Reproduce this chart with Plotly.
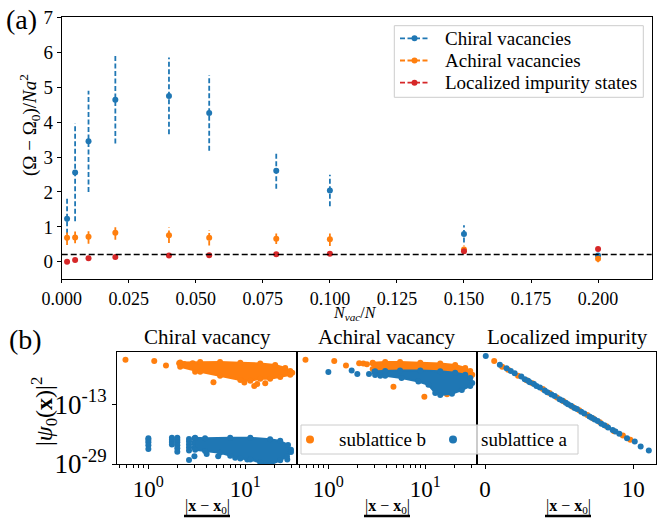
import plotly.graph_objects as go

FONT = "Liberation Serif, DejaVu Serif, serif"
BLUE, ORANGE, RED = "#1f77b4", "#ff7f0e", "#d62728"

# ---------------- Panel (a) data ----------------
CONC = [0.002, 0.005, 0.01, 0.02, 0.04, 0.055, 0.08, 0.1, 0.15, 0.2]
CHIRAL = [1.23, 2.56, 3.45, 4.64, 4.75, 4.26, 2.61, 2.04, 0.80, 0.18]
CHIRAL_ERR = [0.64, 1.40, 1.45, 1.25, 1.10, 1.08, 0.52, 0.45, 0.25, 0.06]
ACHIRAL = [0.69, 0.70, 0.72, 0.83, 0.76, 0.69, 0.66, 0.65, 0.35, 0.09]
ACHIRAL_ERR = [0.21, 0.17, 0.20, 0.20, 0.22, 0.22, 0.15, 0.20, 0.12, 0.10]
LOCALIZED = [0.00, 0.05, 0.10, 0.14, 0.18, 0.19, 0.22, 0.23, 0.30, 0.37]
REF_LEVEL = 0.21
A_XTICKS = [0, 0.025, 0.05, 0.075, 0.1, 0.125, 0.15, 0.175, 0.2]
A_YTICKS = [0, 1, 2, 3, 4, 5, 6, 7]
A_NAMES = ["Chiral vacancies", "Achiral vacancies", "Localized impurity states"]

# ---------------- Panel (b) data (r = |x-x0|/a, exponent = log10 |psi|^2) ----------------
# Chiral vacancy, sublattice b (orange)
CH_B_PTS_R = [0.58, 1.15, 1.52, 2.08, 2.34, 2.57, 2.87, 3.04, 3.10, 4.7, 9.8, 12.4, 13.3, 16.1]
CH_B_PTS_E = [-1.1, -1.4, -2.65, -2.0, -2.2, -2.5, -2.0, -4.3, -3.3, -7.1, -7.2, -8.1, -7.6, -7.4]
CH_B_BAND_R = [2.13, 3.43, 5.5, 8.9, 14.3, 20.4, 25.9, 29.2, 30.6,
               29.2, 23.0, 18.1, 14.3, 11.3, 8.9, 5.5, 3.43, 2.13]
CH_B_BAND_E = [-1.8, -1.7, -1.7, -1.9, -2.1, -2.5, -3.3, -4.1, -4.6,
               -5.1, -5.7, -6.2, -6.2, -6.7, -6.5, -5.4, -4.3, -3.0]
# Chiral vacancy, sublattice a (blue)
CH_A_PTS_R = [1.0, 1.0, 1.0, 1.0, 1.0,
              1.75, 1.75, 1.75, 1.75,
              1.99, 1.99, 1.99, 1.99, 1.99, 1.99,
              2.63, 2.63, 2.63, 2.63, 2.63, 2.63,
              2.99, 2.99, 2.99, 2.99,
              4.0, 5.26, 7.88, 10.5, 16.1, 27.2]
CH_A_PTS_E = [-22.1, -22.6, -23.2, -24.0, -25.0,
              -22.0, -22.5, -23.1, -23.8,
              -22.0, -22.6, -23.2, -24.0, -24.8, -25.7,
              -22.3, -23.0, -23.8, -24.6, -25.4, -27.9,
              -22.2, -23.4, -24.6, -26.9,
              -26.3, -26.9, -27.3, -27.8, -28.6, -27.8]
CH_A_BAND_R = [3.04, 3.85, 7.0, 11.3, 18.1, 23.0, 27.7, 29.7,
               29.7, 27.0, 23.0, 18.1, 14.3, 11.3, 8.9, 7.0, 5.5, 3.85, 3.04]
CH_A_BAND_E = [-22.0, -22.1, -22.0, -22.0, -22.4, -22.8, -23.9, -25.2,
               -25.8, -27.0, -28.0, -29.2, -28.6, -27.8, -27.5, -26.8, -26.0, -25.5, -25.2]
# Achiral vacancy, sublattice b (orange)
AC_B_PTS_R = [0.58, 1.15, 1.52, 2.08, 2.30, 2.50, 2.87, 4.7, 9.8, 16.8]
AC_B_PTS_E = [-1.1, -1.4, -2.65, -2.0, -2.1, -2.3, -2.0, -8.3, -11.0, -10.3]
AC_B_BAND_R = [2.87, 3.86, 5.5, 8.9, 14.3, 20.4, 25.9, 29.2, 30.6,
               29.2, 23.0, 14.3, 8.9, 5.5, 3.86, 2.87]
AC_B_BAND_E = [-1.9, -1.7, -1.7, -1.9, -2.1, -2.5, -3.3, -4.1, -5.1,
               -5.8, -5.3, -4.8, -4.6, -4.4, -4.3, -3.6]
# Achiral vacancy, sublattice a (blue)
AC_A_PTS_R = [1.0, 1.74, 1.99, 2.63, 2.99, 3.44]
AC_A_PTS_E = [-4.4, -4.0, -4.9, -4.9, -4.3, -5.4]
AC_A_BAND_R = [3.04, 3.86, 5.5, 8.9, 14.3, 20.4, 25.9, 29.2, 30.6,
               29.2, 23.9, 18.9, 14.3, 12.7, 10.8, 8.5, 5.7, 3.86, 3.04]
AC_A_BAND_E = [-4.2, -4.1, -4.0, -4.0, -4.2, -4.6, -5.1, -6.0, -7.3,
               -8.1, -9.2, -10.2, -10.5, -10.0, -7.8, -6.9, -6.0, -5.4, -5.2]
# Localized impurity
LO_B_R = [0.62, 1.16, 1.56, 2.23, 2.8, 3.2, 3.9, 4.35, 4.85, 5.3, 5.9, 6.35, 6.9, 7.3,
          7.75, 8.2, 8.7, 9.3, 9.8]
LO_B_E = [-1.4, -3.0, -3.8, -5.4, -6.6, -7.4, -8.9, -10.0, -11.2, -12.2, -13.7, -14.6,
          -15.9, -16.8, -17.8, -18.9, -20.2, -21.4, -22.5]
LO_A_R = [0.05, 1.0, 1.45, 1.74, 2.0, 2.45, 2.68, 2.9, 3.02, 3.3, 3.47, 3.7, 4.03, 4.2,
          4.48, 4.7, 5.03, 5.2, 5.45, 5.6, 5.8, 6.04, 6.2, 6.49, 6.7, 7.05, 7.2, 7.4, 7.6,
          7.85, 8.05, 8.3, 8.61, 8.8, 9.06, 9.58, 10.1, 10.5, 11.05]
LO_A_E = [-0.1, -2.4, -3.4, -4.1, -4.7, -5.6, -6.3, -6.7, -7.1, -7.6, -8.1, -8.5, -9.3,
          -9.8, -10.4, -10.8, -11.7, -12.0, -12.6, -13.0, -13.4, -14.0, -14.3, -15.0,
          -15.5, -16.3, -16.6, -17.1, -17.5, -18.2, -18.6, -19.2, -19.9, -20.3, -20.9,
          -22.1, -23.0, -24.3, -25.4]
B_XTICKS_LOG = [1, 10]
B_XTICKTEXT_LOG = ["10<sup>0</sup>", "10<sup>1</sup>"]
B_XMINOR_LOG = [0.5, 0.6, 0.7, 0.8, 0.9, 2, 3, 4, 5, 6, 7, 8, 9, 20, 30]
B_YTICKS = [1e-13, 1e-29]
B_YTICKTEXT = ["10<sup>-13</sup>", "10<sup>-29</sup>"]
B_XTICKS_LIN = [0, 10]
B_NAMES = ["sublattice b", "sublattice a"]


def pw(exps):
    return [10 ** e for e in exps]


def err_segments(x, y, e):
    xs, ys = [], []
    for xi, yi, ei in zip(x, y, e):
        xs += [xi, xi, None]
        ys += [yi - ei, yi + ei, None]
    return xs, ys


fig = go.Figure()

# ---- panel (a)
for name, vals, errs, col in [(A_NAMES[0], CHIRAL, CHIRAL_ERR, BLUE),
                              (A_NAMES[1], ACHIRAL, ACHIRAL_ERR, ORANGE),
                              (A_NAMES[2], LOCALIZED, None, RED)]:
    if errs is not None:
        ex, ey = err_segments(CONC, vals, errs)
        fig.add_trace(go.Scatter(x=ex, y=ey, mode="lines", showlegend=False,
                                 line=dict(color=col, width=1.8, dash="5px,2.5px"),
                                 hoverinfo="skip", xaxis="x", yaxis="y"))
    fig.add_trace(go.Scatter(x=CONC, y=vals, mode="markers", showlegend=False, name=name,
                             marker=dict(color=col, size=6), xaxis="x", yaxis="y"))

# ---- panel (b)
def band(r, e, col, xa, ya):
    fig.add_trace(go.Scatter(x=r, y=pw(e), mode="lines+markers", fill="toself",
                             fillcolor=col, line=dict(color=col, width=2),
                             marker=dict(color=col, size=6), showlegend=False,
                             xaxis=xa, yaxis=ya, hoverinfo="skip"))


def pts(r, e, col, xa, ya, name=None):
    fig.add_trace(go.Scatter(x=r, y=pw(e), mode="markers",
                             marker=dict(color=col, size=6),
                             name=name, showlegend=False, xaxis=xa, yaxis=ya))

pts(CH_B_PTS_R, CH_B_PTS_E, ORANGE, "x2", "y2", B_NAMES[0])
band(CH_B_BAND_R, CH_B_BAND_E, ORANGE, "x2", "y2")
pts(CH_A_PTS_R, CH_A_PTS_E, BLUE, "x2", "y2", B_NAMES[1])
band(CH_A_BAND_R, CH_A_BAND_E, BLUE, "x2", "y2")

pts(AC_B_PTS_R, AC_B_PTS_E, ORANGE, "x3", "y3", B_NAMES[0])
band(AC_B_BAND_R, AC_B_BAND_E, ORANGE, "x3", "y3")
pts(AC_A_PTS_R, AC_A_PTS_E, BLUE, "x3", "y3", B_NAMES[1])
band(AC_A_BAND_R, AC_A_BAND_E, BLUE, "x3", "y3")

pts(LO_B_R, LO_B_E, ORANGE, "x4", "y4", B_NAMES[0])
pts(LO_A_R, LO_A_E, BLUE, "x4", "y4", B_NAMES[1])

W, H = 657, 523
def px(v):
    return v / W
def py(v):
    return 1 - v / H

ax_common = dict(showline=True, mirror=True, linecolor="black", linewidth=1,
                 ticks="outside", ticklen=4, tickcolor="black", showgrid=False,
                 zeroline=False, automargin=False)
B_Y = [py(464), py(352.3)]
log_x = dict(type="log", range=[-0.324, 1.535], tickvals=B_XTICKS_LOG,
             ticktext=B_XTICKTEXT_LOG, tickfont=dict(family=FONT, size=23, color="black"),
             minor=dict(ticks="outside", ticklen=2.5, tickcolor="black",
                        tickmode="array", tickvals=B_XMINOR_LOG, showgrid=False),
             **ax_common)
log_y = dict(type="log", range=[-29, 0.9], domain=B_Y, **ax_common)

fig.update_layout(
    width=W, height=H, margin=dict(l=0, r=0, t=0, b=0, autoexpand=False),
    paper_bgcolor="white", plot_bgcolor="white", showlegend=False,
    font=dict(family=FONT, color="black", size=19),
    xaxis=dict(domain=[px(61.7), px(651.7)], anchor="y", range=[0, 0.22],
               tickvals=A_XTICKS, tickformat=".3f",
               tickfont=dict(family=FONT, size=18, color="black"),
               **{**ax_common, "ticklen": 3}),
    yaxis=dict(domain=[py(279.3), py(17.3)], anchor="x", range=[-0.5, 7],
               tickvals=A_YTICKS,
               tickfont=dict(family=FONT, size=19, color="black"), **ax_common),
    xaxis2=dict(domain=[px(117), px(297)], anchor="y2", **log_x),
    yaxis2=dict(anchor="x2", tickvals=B_YTICKS, ticktext=B_YTICKTEXT,
                tickfont=dict(family=FONT, size=27, color="black"), **log_y),
    xaxis3=dict(domain=[px(297), px(477)], anchor="y3", **log_x),
    yaxis3=dict(anchor="x3", showticklabels=False, tickvals=[], **log_y),
    xaxis4=dict(domain=[px(477), px(655.5)], anchor="y4", range=[-0.54, 11.5],
                tickvals=B_XTICKS_LIN, tickfont=dict(family=FONT, size=23, color="black"),
                **ax_common),
    yaxis4=dict(anchor="x4", showticklabels=False, tickvals=[], **log_y),
)

fig.add_shape(type="line", xref="x domain", yref="y", x0=0, x1=1, y0=REF_LEVEL,
              y1=REF_LEVEL, line=dict(color="black", width=1.6, dash="6px,3px"))


def ann(x, y, text, size, angle=0, xanchor="center"):
    fig.add_annotation(x=px(x), y=py(y), xref="paper", yref="paper", text=text,
                       showarrow=False, textangle=angle, xanchor=xanchor,
                       yanchor="middle",
                       font=dict(family=FONT, size=size, color="black"))


def box(x0, y0, x1, y1):
    fig.add_shape(type="rect", xref="paper", yref="paper", x0=px(x0), x1=px(x1),
                  y0=py(y1), y1=py(y0), line=dict(color="#cccccc", width=1),
                  fillcolor="rgba(255,255,255,0.8)", layer="above")


def dot(x, y, col, d):
    fig.add_shape(type="circle", xref="paper", yref="paper", x0=px(x - d / 2),
                  x1=px(x + d / 2), y0=py(y + d / 2), y1=py(y - d / 2),
                  line=dict(width=0), fillcolor=col, layer="above")


# legend (a)
box(394.3, 25.7, 643.3, 97.3)
for i, (name, col) in enumerate(zip(A_NAMES, [BLUE, ORANGE, RED])):
    yy = 38.3 + 22.2 * i
    fig.add_shape(type="line", xref="paper", yref="paper", x0=px(400), x1=px(429),
                  y0=py(yy), y1=py(yy), layer="above",
                  line=dict(color=col, width=1.8, dash="5px,2.5px"))
    dot(414.5, yy, col, 6)
    ann(443, yy, name, 19, xanchor="left")

# legend (b)
box(301, 425, 578, 454)
for xd, xt, name, col in [(310, 337, B_NAMES[0], ORANGE), (453, 479, B_NAMES[1], BLUE)]:
    dot(xd, 439.5, col, 8)
    ann(xt, 439.5, name, 19, xanchor="left")

ann(21, 20, "(a)", 28)
ann(25, 339, "(b)", 28)
ann(29, 125, "(Ω − Ω<sub>0</sub>)/<i>Na</i><sup>2</sup>", 19, angle=-90)
ann(355, 313, "<i>N<sub>vac</sub></i>/<i>N</i>", 16)
ann(207, 337, "Chiral vacancy", 21)
ann(387, 337, "Achiral vacancy", 21)
ann(567, 337, "Localized impurity", 21)
ann(44, 412, "|<i>ψ</i><sub>0</sub>(<b>x</b>)|<sup>2</sup>", 24, angle=-90)
for cx in [207, 387, 568]:
    ann(cx, 506, "|<b>x</b> − <b>x</b><sub>0</sub>|", 16)
    fig.add_shape(type="line", xref="paper", yref="paper", x0=px(cx - 23),
                  x1=px(cx + 23), y0=py(516), y1=py(516),
                  line=dict(color="black", width=2.5))
    ann(cx, 529, "<i>a</i>", 16)

fig.write_html("out.html", config={"displayModeBar": False},
               post_script="document.body.style.margin='0';document.body.style.overflow='hidden';")
